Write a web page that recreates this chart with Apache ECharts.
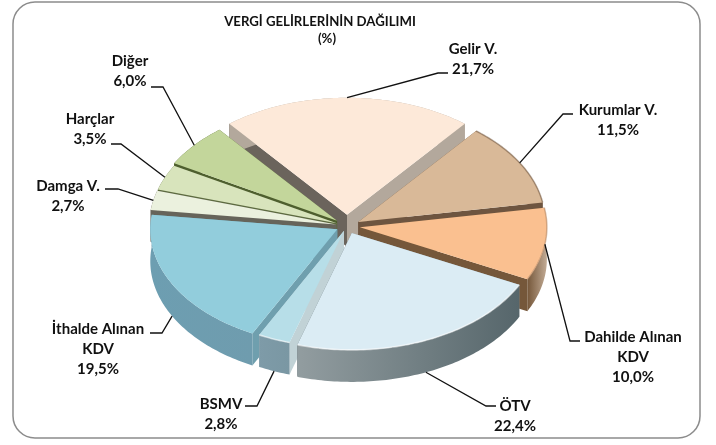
<!DOCTYPE html>
<html>
<head>
<meta charset="utf-8">
<style>html,body{margin:0;padding:0;background:#fff}#main{width:716px;height:445px}</style>
<script src="https://cdn.jsdelivr.net/npm/echarts@6/dist/echarts.min.js"></script>
</head>
<body>
<div id="main"></div>
<script>
// values, clockwise from the Gelir V. slice
var categories = ['Gelir V.', 'Kurumlar V.', 'Dahilde Alınan\nKDV', 'ÖTV', 'BSMV', 'İthalde Alınan\nKDV', 'Damga V.', 'Harçlar', 'Diğer'];
var shares = [21.7, 11.5, 10.0, 22.4, 2.8, 19.5, 2.7, 3.5, 6.0];

// back to front, slices are painted in this order
var paintOrder = [0, 1, 8, 7, 6, 2, 5, 4, 3];
var explode = [18, 13, 13, 12, 8, 11, 11, 11, 13];
var topColors = ['#fde9d9', '#d9b998', '#fac090', '#dbecf4', '#b7dee8', '#92cddc', '#ebf1de', '#d8e4bc', '#c3d69b'];
var startWall = ['#6b645c', '#6e5540', '#75573a', '#8f9a9d', '#c1d2d6', '#6f9fae', '#66645a', '#5d6b40', '#4e5f2e'];
var endWall = ['#b3a89c', '#6e5540', '#75573a', '#5c6b70', '#c1d2d6', '#6f9fae', '#66645a', '#5d6b40', '#4e5f2e'];
var outerWall = [
    ['#b3a89c', '#b3a89c'], ['#6e5540', '#6e5540'], ['#75573a', '#c2ab95'], ['#929da0', '#56666b'],
    ['#7e9ba8', '#7a97a3'], ['#6d9eb1', '#6f9cae'], ['#66645a', '#66645a'], ['#5d6b40', '#5d6b40'], ['#4e5f2e', '#4e5f2e']
];
var rimColors = [null, '#7c6148', '#b98d68', '#ffffff', '#ffffff', null, null, null, null];

// label anchor, then the elbow and stub of each leader line
var labelPos = [[473, 49], [618, 110], [633, 337], [515, 406], [221, 404], [98, 329], [68, 186], [90, 119], [130, 61]];
var leaderBend = [
    [[438, 73], [448, 73]], [[563, 114], [573, 114]], [[570, 341], [580, 341]],
    [[486, 406], [496, 406]], [[257, 406], [245, 406]], [[162, 333], [150, 333]],
    [[118, 189], [105, 189]], [[121, 144], [111, 144]], [[163, 87], [151, 87]]
];

var cx = 347, cy = 226, rx = 187, ry = 117, depth = 32, startAngle = -39;
var labelFont = 'bold 15px Lato, "Noto Sans", sans-serif';
var titleFont = 'bold 13.2px Lato, "Noto Sans", sans-serif';

var total = shares.reduce(function(a, b) { return a + b; }, 0);
var ranges = [];
var acc = startAngle;
shares.forEach(function(v) {
    var sweep = v / total * 360;
    ranges.push([acc, acc + sweep]);
    acc += sweep;
});

function project(deg, r, ox, oy) {
    var a = deg * Math.PI / 180;
    return [cx + ox + rx * r * Math.sin(a), cy + oy - ry * r * Math.cos(a)];
}
function offsetOf(i) {
    var mid = (ranges[i][0] + ranges[i][1]) / 2 * Math.PI / 180;
    return [explode[i] * Math.sin(mid), -explode[i] * Math.cos(mid) * ry / rx];
}
function down(p) {
    return [p[0], p[1] + depth];
}
function arcPoints(i) {
    var off = offsetOf(i), pts = [];
    for (var d = ranges[i][0]; d < ranges[i][1]; d += 1) {
        pts.push(project(d, 1, off[0], off[1]));
    }
    pts.push(project(ranges[i][1], 1, off[0], off[1]));
    return pts;
}

function renderSlice(params, api) {
    var i = params.dataIndex;
    var z = paintOrder.indexOf(i) * 10 + 1;
    var off = offsetOf(i);
    var apex = [cx + off[0], cy + off[1]];
    var arc = arcPoints(i);
    var first = arc[0], last = arc[arc.length - 1];
    var children = [];
    children.push({type: 'polygon', z2: z, shape: {points: [apex, first, down(first), down(apex)]}, style: {fill: startWall[i]}});
    children.push({type: 'polygon', z2: z, shape: {points: [apex, last, down(last), down(apex)]}, style: {fill: endWall[i]}});
    children.push({
        type: 'polygon', z2: z + 1,
        shape: {points: arc.concat(arc.map(down).reverse())},
        style: {fill: new echarts.graphic.LinearGradient(0, 0, 1, 0, [
            {offset: 0, color: outerWall[i][0]}, {offset: 1, color: outerWall[i][1]}
        ])}
    });
    children.push({type: 'polygon', z2: z + 2, shape: {points: [apex].concat(arc)}, style: {fill: topColors[i]}});
    if (rimColors[i]) {
        children.push({
            type: 'polyline', z2: z + 3, shape: {points: arc},
            style: {fill: null, stroke: rimColors[i], lineWidth: 1.6, opacity: 0.55}
        });
    }
    return {type: 'group', children: children};
}

function renderLabel(params, api) {
    var i = params.dataIndex;
    var off = offsetOf(i);
    var midDeg = (ranges[i][0] + ranges[i][1]) / 2;
    var start = project(midDeg, 1, off[0], off[1]);
    if (Math.cos(midDeg * Math.PI / 180) < -0.3) {
        start = down(start);
    }
    var lines = categories[i].split('\n');
    lines.push(api.value(0).toFixed(1).replace('.', ',') + '%');
    var children = [{
        type: 'polyline', z2: 200,
        shape: {points: [start].concat(leaderBend[i])},
        style: {fill: null, stroke: '#111', lineWidth: 1.3}
    }];
    lines.forEach(function(t, n) {
        children.push({
            type: 'text', z2: 201,
            style: {x: labelPos[i][0], y: labelPos[i][1] + n * 20, text: t, font: labelFont, fill: '#111', align: 'center', verticalAlign: 'middle'}
        });
    });
    return {type: 'group', children: children};
}

var chart = echarts.init(document.getElementById('main'));
chart.setOption({
    animation: false,
    backgroundColor: '#fff',
    graphic: [
        {type: 'rect', shape: {x: 13, y: 2, width: 687, height: 436, r: 22}, style: {fill: '#fff', stroke: '#8c8c8c', lineWidth: 1.5}, z: -1},
        {type: 'text', style: {x: 320, y: 22, text: 'VERGİ GELİRLERİNİN DAĞILIMI', font: titleFont, fill: '#111', align: 'center', verticalAlign: 'middle'}},
        {type: 'text', style: {x: 327, y: 39, text: '(%)', font: titleFont, fill: '#111', align: 'center', verticalAlign: 'middle'}}
    ],
    series: [
        {type: 'custom', coordinateSystem: 'none', silent: true, renderItem: renderSlice, data: shares.map(function(v) { return [v]; })},
        {type: 'custom', coordinateSystem: 'none', silent: true, renderItem: renderLabel, data: shares.map(function(v) { return [v]; }), z: 3}
    ]
});
</script>
</body>
</html>
